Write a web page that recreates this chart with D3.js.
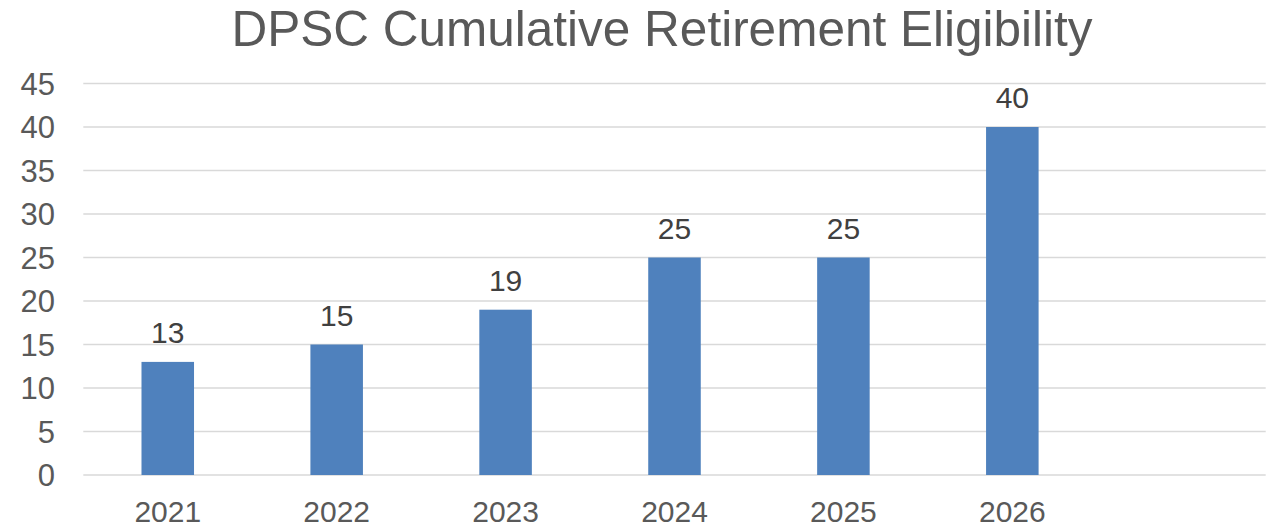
<!DOCTYPE html>
<html>
<head>
<meta charset="utf-8">
<script src="https://cdn.jsdelivr.net/npm/d3@7"></script>
<style>
  html, body { margin: 0; padding: 0; background: #fff; }
  #chart { width: 1278px; height: 528px; }
  text { font-family: "Liberation Sans", Arial, sans-serif; fill: #595959; }
</style>
</head>
<body>
<div id="chart"></div>
<script>
// chart data
const years = ["2021", "2022", "2023", "2024", "2025", "2026", ""];
const eligible = [13, 15, 19, 25, 25, 40, null];
const yTicks = [0, 5, 10, 15, 20, 25, 30, 35, 40, 45];
const chartTitle = "DPSC Cumulative Retirement Eligibility";

const width = 1278, height = 528;
const margin = { top: 83.5, right: 12.3, bottom: 53, left: 83.3 };

const svg = d3.select("#chart")
  .append("svg")
    .attr("width", width)
    .attr("height", height);

const x = d3.scaleBand()
    .domain(years.map((d, i) => i))
    .range([margin.left, width - margin.right])
    .paddingInner(0.689)
    .paddingOuter(0.3445);

const y = d3.scaleLinear()
    .domain([0, 45])
    .range([height - margin.bottom, margin.top]);

// gridlines
svg.append("g")
  .selectAll("line")
  .data(yTicks)
  .join("line")
    .attr("x1", margin.left)
    .attr("x2", width - margin.right)
    .attr("y1", d => y(d))
    .attr("y2", d => y(d))
    .attr("stroke", "#d9d9d9")
    .attr("stroke-width", 1.6);

// y tick labels
svg.append("g")
  .selectAll("text")
  .data(yTicks)
  .join("text")
    .attr("x", 55)
    .attr("y", d => y(d))
    .attr("dy", "0.36em")
    .attr("text-anchor", "end")
    .style("font-size", "31px")
    .text(d => d);

// bars
const barData = eligible.map((v, i) => ({ i, v })).filter(d => d.v != null);

svg.append("g")
  .selectAll("rect")
  .data(barData)
  .join("rect")
    .attr("x", d => x(d.i))
    .attr("width", x.bandwidth())
    .attr("y", d => y(d.v))
    .attr("height", d => y(0) - y(d.v))
    .attr("fill", "#4f81bd");

// value labels
svg.append("g")
  .selectAll("text")
  .data(barData)
  .join("text")
    .attr("x", d => x(d.i) + x.bandwidth() / 2)
    .attr("y", d => y(d.v) - 19)
    .attr("text-anchor", "middle")
    .style("font-size", "30px")
    .style("fill", "#404040")
    .text(d => d.v);

// x labels
svg.append("g")
  .selectAll("text")
  .data(years)
  .join("text")
    .attr("x", (d, i) => x(i) + x.bandwidth() / 2)
    .attr("y", 521.5)
    .attr("text-anchor", "middle")
    .style("font-size", "30px")
    .text(d => d);

// title
svg.append("text")
    .attr("x", 662)
    .attr("y", 46)
    .attr("text-anchor", "middle")
    .style("font-size", "49.5px")
    .text(chartTitle);
</script>
</body>
</html>
